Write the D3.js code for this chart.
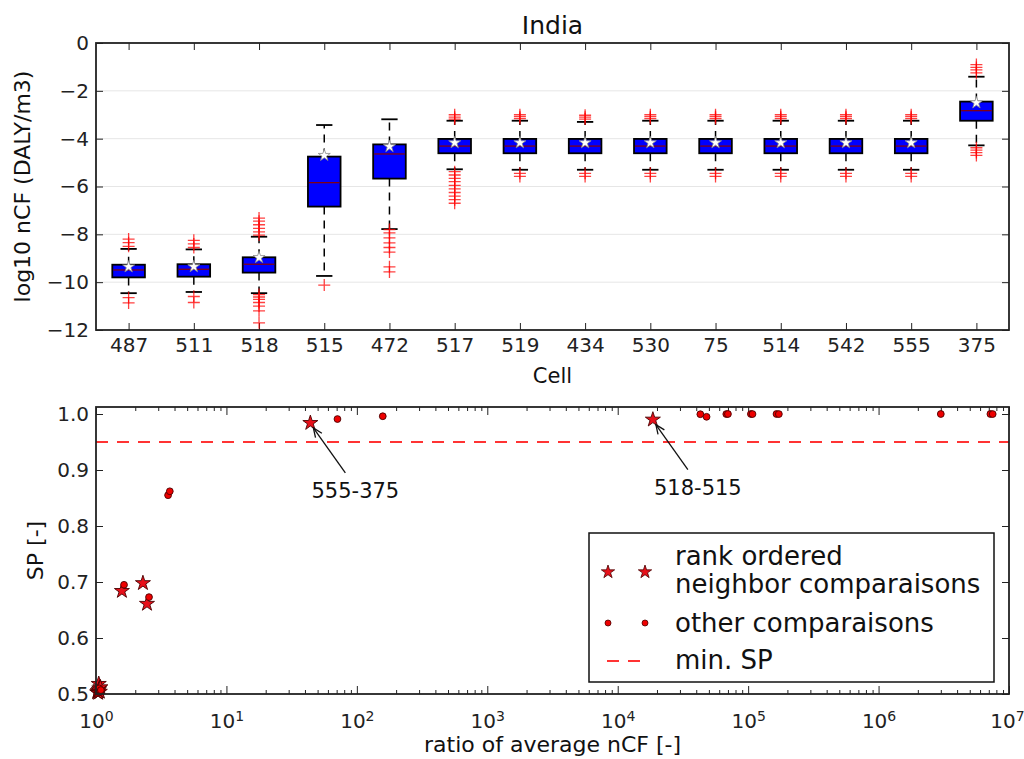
<!DOCTYPE html>
<html>
<head>
<meta charset="utf-8">
<script src="https://cdn.jsdelivr.net/npm/d3@7"></script>
<style>
  body { margin: 0; background: #fff; }
  svg { font-family: 'DejaVu Sans', sans-serif; }
  .tick text { fill: #222; }
</style>
</head>
<body>
<svg id="chart" width="1024" height="759"></svg>
<script>
// ---- top panel: box plots of log10 nCF per cell ----
const cells = ['487', '511', '518', '515', '472', '517', '519', '434', '530', '75', '514', '542', '555', '375'];
const q1 = [-9.80, -9.77, -9.60, -6.84, -5.67, -4.61, -4.61, -4.61, -4.61, -4.61, -4.61, -4.61, -4.61, -3.25];
const medians = [-9.49, -9.46, -9.25, -5.84, -4.64, -4.31, -4.31, -4.31, -4.31, -4.31, -4.31, -4.31, -4.31, -2.83];
const q3 = [-9.27, -9.25, -8.96, -4.75, -4.24, -4.01, -4.01, -4.01, -4.01, -4.01, -4.01, -4.01, -4.01, -2.45];
const whiskLo = [-10.46, -10.41, -10.46, -9.74, -7.78, -5.28, -5.30, -5.30, -5.30, -5.30, -5.30, -5.30, -5.30, -4.28];
const whiskHi = [-8.61, -8.63, -8.10, -3.43, -3.19, -3.25, -3.25, -3.30, -3.25, -3.25, -3.25, -3.25, -3.25, -1.41];
const means = [-9.36, -9.35, -8.97, -4.70, -4.33, -4.17, -4.17, -4.17, -4.17, -4.17, -4.17, -4.17, -4.17, -2.50];
const outliers = [
  [-8.20, -8.35, -8.50, -10.65, -10.87],
  [-8.25, -8.40, -8.55, -10.60, -10.85],
  [-7.32, -7.45, -7.60, -7.75, -7.90, -8.03, -10.52, -10.62, -10.72, -10.85, -11.00, -11.20, -11.70],
  [-10.12],
  [-7.80, -7.94, -8.15, -8.36, -8.55, -8.74, -9.36, -9.57],
  [-3.00, -3.10, -3.18, -5.38, -5.52, -5.66, -5.80, -5.95, -6.10, -6.25, -6.40, -6.55, -6.70],
  [-3.00, -3.08, -3.16, -5.45, -5.58],
  [-3.02, -3.10, -3.18, -5.45, -5.58],
  [-3.00, -3.08, -3.16, -5.45, -5.58],
  [-3.00, -3.08, -3.16, -5.45, -5.58],
  [-3.00, -3.08, -3.16, -5.45, -5.58],
  [-3.00, -3.08, -3.16, -5.45, -5.58],
  [-3.00, -3.08, -3.16, -5.45, -5.58],
  [-0.90, -1.02, -1.12, -1.25, -4.38, -4.48, -4.58, -4.70]
];
const topYTicks = [0, -2, -4, -6, -8, -10, -12];

// ---- bottom panel: SP vs ratio of average nCF ----
const neighborRatio = [1.02, 1.03, 1.04, 1.05, 1.05, 1.06, 1.07, 1.08, 1.58, 2.29, 2.46, 44, 18600];
const neighborSP = [0.503, 0.505, 0.502, 0.518, 0.507, 0.510, 0.504, 0.512, 0.684, 0.698, 0.661, 0.984, 0.990];
const otherRatio = [1.02, 1.03, 1.04, 1.05, 1.06, 1.07, 1.08, 1.09, 1.64, 2.55, 3.57, 3.68, 71, 158,
  43000, 48000, 68000, 70000, 105000, 108000, 165000, 172000, 3.0e6, 7.2e6, 7.5e6];
const otherSP = [0.502, 0.504, 0.506, 0.508, 0.510, 0.503, 0.505, 0.507, 0.695, 0.673, 0.855, 0.862, 0.991, 0.996,
  0.9996, 0.995, 0.9999, 1.0, 1.0, 0.9999, 1.0, 0.9999, 1.0, 1.0, 0.9999];
const minSP = 0.95;
const annotLabels = ['555-375', '518-515'];
const annotRatio = [44, 18600];
const annotSP = [0.984, 0.990];
const bottomYTicks = [0.5, 0.6, 0.7, 0.8, 0.9, 1.0];
const bottomXTicks = [1, 10, 100, 1e3, 1e4, 1e5, 1e6, 1e7];

const svg = d3.select('#chart');
const left = 96, right = 1009;
const topPanel = { top: 43, bottom: 330 };
const botPanel = { top: 407, bottom: 694 };

// ---------- top panel ----------
const x1 = d3.scaleLinear().domain([0.5, cells.length + 0.5]).range([left, right]);
const y1 = d3.scaleLinear().domain([-12, 0]).range([topPanel.bottom, topPanel.top]);
const unit = x1(2) - x1(1);

// grid
svg.append('g')
  .selectAll('line')
  .data(topYTicks.slice(1, -1))
  .join('line')
  .attr('x1', left).attr('x2', right)
  .attr('y1', d => y1(d)).attr('y2', d => y1(d))
  .attr('stroke', '#e6e6e6').attr('stroke-width', 1);

function styleAxis(g, fontSize) {
  g.select('.domain').remove();
  g.selectAll('.tick line').attr('stroke', '#222').attr('stroke-width', 1);
  g.selectAll('.tick text').attr('font-size', fontSize).attr('font-family', 'DejaVu Sans');
}

const idx = cells.map((c, i) => i + 1);
svg.append('g')
  .attr('transform', `translate(0,${topPanel.bottom})`)
  .call(d3.axisBottom(x1).tickValues(idx).tickFormat(i => cells[i - 1]).tickSize(-7).tickPadding(8))
  .call(g => styleAxis(g, 20));
svg.append('g')
  .attr('transform', `translate(0,${topPanel.top})`)
  .call(d3.axisTop(x1).tickValues(idx).tickFormat('').tickSize(-7))
  .call(g => styleAxis(g, 20));
svg.append('g')
  .attr('transform', `translate(${left},0)`)
  .call(d3.axisLeft(y1).tickValues(topYTicks).tickFormat(d => d3.format('d')(d).replace('-', '\u2212')).tickSize(-7).tickPadding(7))
  .call(g => styleAxis(g, 20));
svg.append('g')
  .attr('transform', `translate(${right},0)`)
  .call(d3.axisRight(y1).tickValues(topYTicks).tickFormat('').tickSize(-7))
  .call(g => styleAxis(g, 20));

const boxes = svg.append('g');
cells.forEach((c, i) => {
  const cx = x1(i + 1);
  const bw = unit * 0.5;
  const cw = unit * 0.25;
  const g = boxes.append('g');
  // whiskers (dashed)
  g.append('line').attr('x1', cx).attr('x2', cx)
    .attr('y1', y1(q3[i])).attr('y2', y1(whiskHi[i]))
    .attr('stroke', '#000').attr('stroke-width', 1.5).attr('stroke-dasharray', '8,6');
  g.append('line').attr('x1', cx).attr('x2', cx)
    .attr('y1', y1(q1[i])).attr('y2', y1(whiskLo[i]))
    .attr('stroke', '#000').attr('stroke-width', 1.5).attr('stroke-dasharray', '8,6');
  // caps
  [whiskHi[i], whiskLo[i]].forEach(v => {
    g.append('line').attr('x1', cx - cw / 2).attr('x2', cx + cw / 2)
      .attr('y1', y1(v)).attr('y2', y1(v))
      .attr('stroke', '#000').attr('stroke-width', 1.8);
  });
  // box
  g.append('rect')
    .attr('x', cx - bw / 2).attr('width', bw)
    .attr('y', y1(q3[i])).attr('height', y1(q1[i]) - y1(q3[i]))
    .attr('fill', '#0000ff').attr('stroke', '#000').attr('stroke-width', 1.8);
  g.append('line').attr('x1', cx - bw / 2 + 1).attr('x2', cx + bw / 2 - 1)
    .attr('y1', y1(medians[i])).attr('y2', y1(medians[i]))
    .attr('stroke', '#8b0000').attr('stroke-width', 1.2);
  // fliers
  g.selectAll('path.flier')
    .data(outliers[i])
    .join('path')
    .attr('class', 'flier')
    .attr('d', d => `M${cx - 6},${y1(d)}H${cx + 6}M${cx},${y1(d) - 6}V${y1(d) + 6}`)
    .attr('stroke', '#ff0000').attr('stroke-width', 1.3).attr('stroke-opacity', 0.75);
  // mean
  g.append('path')
    .attr('transform', `translate(${cx},${y1(means[i])})`)
    .attr('d', d3.symbol(d3.symbolStar, 45)())
    .attr('fill', '#fff').attr('stroke', '#888').attr('stroke-width', 0.8);
});

svg.append('rect')
  .attr('x', left).attr('y', topPanel.top)
  .attr('width', right - left).attr('height', topPanel.bottom - topPanel.top)
  .attr('fill', 'none').attr('stroke', '#222').attr('stroke-width', 1.8);

svg.append('text')
  .attr('x', (left + right) / 2).attr('y', 34)
  .attr('text-anchor', 'middle').attr('font-size', 25).attr('fill', '#111')
  .text('India');
svg.append('text')
  .attr('x', (left + right) / 2).attr('y', 383)
  .attr('text-anchor', 'middle').attr('font-size', 21).attr('fill', '#111')
  .text('Cell');
svg.append('text')
  .attr('transform', `translate(30,${(topPanel.top + topPanel.bottom) / 2}) rotate(-90)`)
  .attr('text-anchor', 'middle').attr('font-size', 22).attr('fill', '#111')
  .text('log10 nCF (DALY/m3)');

// ---------- bottom panel ----------
const x2 = d3.scaleLog().domain([1, 1e7]).range([left, right]);
const y2 = d3.scaleLinear().domain([0.5, 1.0125]).range([botPanel.bottom, botPanel.top]);

const minor = [];
for (let e = 0; e < 7; e++) for (let m = 2; m <= 9; m++) minor.push(m * Math.pow(10, e));

const supLabel = (sel) => {
  sel.selectAll('.tick text').each(function (d) {
    const t = d3.select(this);
    t.text('');
    t.append('tspan').text('10');
    t.append('tspan').attr('dy', '-0.55em').attr('font-size', 14).text(Math.round(Math.log10(d)));
  });
};

svg.append('g')
  .attr('transform', `translate(0,${botPanel.bottom})`)
  .call(d3.axisBottom(x2).tickValues(bottomXTicks).tickFormat(d => d).tickSize(-8).tickPadding(20))
  .call(g => styleAxis(g, 20))
  .call(supLabel)
  .call(g => g.selectAll('.tick text').filter(d => d === 1e7).attr('dx', -2));
svg.append('g')
  .attr('transform', `translate(0,${botPanel.bottom})`)
  .call(d3.axisBottom(x2).tickValues(minor).tickFormat('').tickSize(-4))
  .call(g => styleAxis(g, 20));
svg.append('g')
  .attr('transform', `translate(0,${botPanel.top})`)
  .call(d3.axisTop(x2).tickValues(bottomXTicks).tickFormat('').tickSize(-8))
  .call(g => styleAxis(g, 20));
svg.append('g')
  .attr('transform', `translate(0,${botPanel.top})`)
  .call(d3.axisTop(x2).tickValues(minor).tickFormat('').tickSize(-4))
  .call(g => styleAxis(g, 20));
svg.append('g')
  .attr('transform', `translate(${left},0)`)
  .call(d3.axisLeft(y2).tickValues(bottomYTicks).tickFormat(d3.format('.1f')).tickSize(-7).tickPadding(7))
  .call(g => styleAxis(g, 20));
svg.append('g')
  .attr('transform', `translate(${right},0)`)
  .call(d3.axisRight(y2).tickValues(bottomYTicks).tickFormat('').tickSize(-7))
  .call(g => styleAxis(g, 20));

const plot2 = svg.append('g');
plot2.append('line')
  .attr('x1', left).attr('x2', right)
  .attr('y1', y2(minSP)).attr('y2', y2(minSP))
  .attr('stroke', '#ff3333').attr('stroke-width', 2).attr('stroke-dasharray', '12,9');

plot2.selectAll('path.nb')
  .data(neighborRatio.map((r, i) => [r, neighborSP[i]]))
  .join('path')
  .attr('class', 'nb')
  .attr('transform', d => `translate(${x2(d[0])},${y2(d[1])})`)
  .attr('d', d3.symbol(d3.symbolStar, 70)())
  .attr('fill', '#e8101a').attr('stroke', '#4a0000').attr('stroke-width', 0.9);

plot2.selectAll('circle.ot')
  .data(otherRatio.map((r, i) => [r, otherSP[i]]))
  .join('circle')
  .attr('class', 'ot')
  .attr('cx', d => x2(d[0])).attr('cy', d => y2(d[1]))
  .attr('r', 3.4)
  .attr('fill', '#ee0000').attr('stroke', '#4a0000').attr('stroke-width', 0.9);

// annotations
annotLabels.forEach((lab, i) => {
  const px = x2(annotRatio[i]);
  const py = y2(annotSP[i]);
  const tx = px + 35, ty = py + 50;
  const ang = Math.atan2(py + 5 - ty, px + 3 - tx);
  const hx = px + 3, hy = py + 5;
  const hl = 10, ha = 0.4;
  plot2.append('line')
    .attr('x1', tx).attr('y1', ty).attr('x2', hx).attr('y2', hy)
    .attr('stroke', '#111').attr('stroke-width', 1.3);
  plot2.append('path')
    .attr('d', `M${hx - hl * Math.cos(ang - ha)},${hy - hl * Math.sin(ang - ha)}L${hx},${hy}L${hx - hl * Math.cos(ang + ha)},${hy - hl * Math.sin(ang + ha)}`)
    .attr('fill', 'none').attr('stroke', '#111').attr('stroke-width', 1.3);
  plot2.append('text')
    .attr('x', px + 45).attr('y', py + 75)
    .attr('text-anchor', 'middle').attr('font-size', 21).attr('fill', '#111')
    .text(lab);
});

svg.append('rect')
  .attr('x', left).attr('y', botPanel.top)
  .attr('width', right - left).attr('height', botPanel.bottom - botPanel.top)
  .attr('fill', 'none').attr('stroke', '#222').attr('stroke-width', 1.8);

svg.append('text')
  .attr('x', (left + right) / 2).attr('y', 752)
  .attr('text-anchor', 'middle').attr('font-size', 22).attr('fill', '#111')
  .text('ratio of average nCF [-]');
svg.append('text')
  .attr('transform', `translate(43,${(botPanel.top + botPanel.bottom) / 2}) rotate(-90)`)
  .attr('text-anchor', 'middle').attr('font-size', 22).attr('fill', '#111')
  .text('SP [-]');

// legend
const lg = svg.append('g');
lg.append('rect').attr('x', 589).attr('y', 533).attr('width', 405).attr('height', 149)
  .attr('fill', '#fff').attr('stroke', '#111').attr('stroke-width', 1.5);
[608, 645].forEach(lx => {
  lg.append('path').attr('transform', `translate(${lx},572)`)
    .attr('d', d3.symbol(d3.symbolStar, 55)())
    .attr('fill', '#e8101a').attr('stroke', '#4a0000').attr('stroke-width', 0.8);
  lg.append('circle').attr('cx', lx).attr('cy', 623).attr('r', 3)
    .attr('fill', '#ee0000').attr('stroke', '#4a0000').attr('stroke-width', 0.8);
});
lg.append('line').attr('x1', 607).attr('x2', 643).attr('y1', 661).attr('y2', 661)
  .attr('stroke', '#ff3333').attr('stroke-width', 2).attr('stroke-dasharray', '12,9');
const legendText = [['rank ordered', 565], ['neighbor comparaisons', 593], ['other comparaisons', 632], ['min. SP', 669]];
legendText.forEach(([t, yy]) => {
  lg.append('text').attr('x', 675).attr('y', yy).attr('font-size', 26).attr('fill', '#111').text(t);
});
</script>
</body>
</html>
